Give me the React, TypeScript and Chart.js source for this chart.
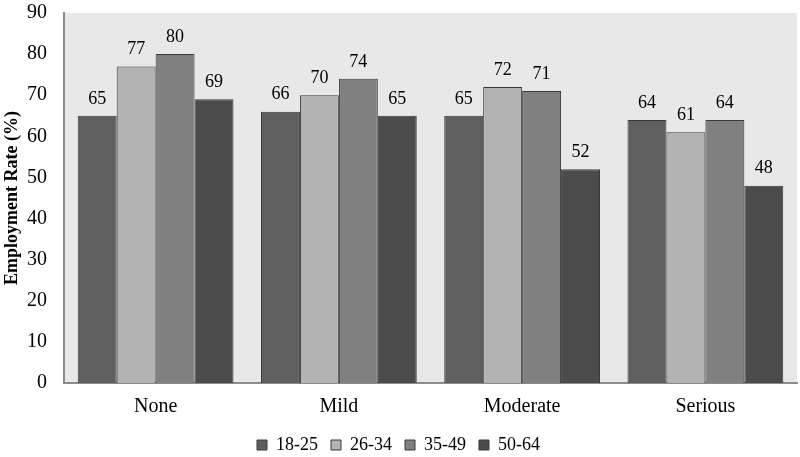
import React, { useEffect, useRef } from "react";
import { Chart, registerables } from "chart.js";

Chart.register(...registerables);

const categories = ["None", "Mild", "Moderate", "Serious"];
const seriesNames = ["18-25", "26-34", "35-49", "50-64"];
const age18to25 = [65, 66, 65, 64];
const age26to34 = [77, 70, 72, 61];
const age35to49 = [80, 74, 71, 64];
const age50to64 = [69, 65, 52, 48];
const colors = ["#5f5f5f", "#b3b3b3", "#808080", "#4b4b4b"];

const FONT = "'Liberation Serif', 'Times New Roman', serif";

const bgPlugin = {
  id: "plotBg",
  beforeDraw(chart: any) {
    const { ctx, chartArea } = chart;
    ctx.save();
    ctx.fillStyle = "#e8e8e8";
    ctx.fillRect(chartArea.left, chartArea.top, chartArea.right - chartArea.left, chartArea.bottom - chartArea.top);
    ctx.restore();
  },
};

const labelPlugin = {
  id: "valueLabels",
  afterDatasetsDraw(chart: any) {
    const { ctx } = chart;
    ctx.save();
    ctx.font = `18px ${FONT}`;
    ctx.fillStyle = "#000";
    ctx.textAlign = "center";
    ctx.textBaseline = "bottom";
    chart.data.datasets.forEach((ds: any, i: number) => {
      const meta = chart.getDatasetMeta(i);
      meta.data.forEach((bar: any, j: number) => {
        ctx.fillText(String(ds.data[j]), bar.x, bar.y - 8);
      });
    });
    ctx.restore();
  },
};

export default function App() {
  const ref = useRef<HTMLCanvasElement>(null);
  useEffect(() => {
    const series = [age18to25, age26to34, age35to49, age50to64];
    const chart = new Chart(ref.current!, {
      type: "bar",
      data: {
        labels: categories,
        datasets: series.map((d, i) => ({
          label: seriesNames[i],
          data: d,
          backgroundColor: colors[i],
          borderColor: "#3a3a3a",
          borderWidth: 1,
          categoryPercentage: 0.85,
          barPercentage: 1.0,
        })),
      },
      options: {
        animation: false,
        responsive: false,
        maintainAspectRatio: false,
        layout: { padding: { top: 13, right: 3, left: 0, bottom: -7 } },
        plugins: {
          legend: {
            position: "bottom",
            labels: {
              font: { family: FONT, size: 18 },
              color: "#000",
              boxWidth: 10,
              boxHeight: 10,
              padding: 13,
            },
          },
          tooltip: { enabled: false },
        },
        scales: {
          x: {
            grid: { display: false, drawTicks: false },
            border: { color: "#8c8c8c", width: 2 },
            ticks: { font: { family: FONT, size: 20 }, color: "#000", padding: 12 },
            afterFit(scale: any) {
              scale.height = 40;
              scale.paddingLeft = 0;
              scale.paddingRight = 0;
            },
          },
          y: {
            min: 0,
            max: 90,
            grid: { display: false, drawTicks: false },
            border: { color: "#8c8c8c", width: 2 },
            ticks: { stepSize: 10, font: { family: FONT, size: 20 }, color: "#000", padding: 17 },
            title: {
              display: true,
              text: "Employment Rate (%)",
              font: { family: FONT, size: 18, weight: "bold" },
              color: "#000",
              padding: { top: 2, bottom: 0 },
            },
            afterFit(scale: any) {
              scale.width = 64;
              scale.paddingTop = 0;
              scale.paddingBottom = 0;
            },
          },
        },
      },
      plugins: [bgPlugin, labelPlugin],
    });
    return () => chart.destroy();
  }, []);
  return (
    <div style={{ position: "fixed", left: 0, top: 0, width: 800, height: 457, background: "#fff" }}>
      <canvas ref={ref} width={800} height={457} />
    </div>
  );
}
